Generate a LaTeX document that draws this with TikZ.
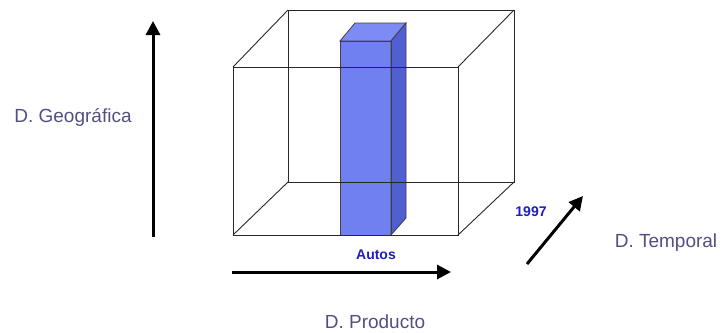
\documentclass[tikz,border=0pt]{standalone}
\usepackage{fontspec}
\setmainfont{Liberation Sans}
\usetikzlibrary{arrows.meta}
\definecolor{labelc}{RGB}{80,80,130}
\definecolor{valc}{RGB}{30,30,190}
\definecolor{barfront}{RGB}{112,128,240}
\definecolor{barside}{RGB}{80,96,210}
\definecolor{bartop}{RGB}{125,140,245}
\definecolor{edgec}{RGB}{40,40,40}
\tikzset{
  axis/.style={line width=3pt,-{Triangle[length=14pt,width=14pt]}},
  edge/.style={draw=edgec,line width=0.9pt},
  barline/.style={draw=black!75,line width=0.8pt},
  dimlabel/.style={text=labelc,font=\fontsize{19}{21}\selectfont,inner sep=0pt},
  vallabel/.style={text=valc,font=\bfseries\fontsize{14}{16}\selectfont,inner sep=0pt}
}
\begin{document}
\begin{tikzpicture}[x=1pt,y=-1pt]
\useasboundingbox (0,0) rectangle (725,332);
% bar
\fill[barfront,barline] (340,41) rectangle (391,235);
\filldraw[bartop,barline] (340,41) -- (355,23) -- (406,23) -- (391,41) -- cycle;
\filldraw[barside,barline] (391,41) -- (406,23) -- (406,218) -- (391,235) -- cycle;
\draw[barline] (340,41) rectangle (391,235);
% cube
\coordinate (f1) at (233,67);
\coordinate (f2) at (458,67);
\coordinate (f3) at (458,235);
\coordinate (f4) at (233,235);
\coordinate (b1) at (288,10);
\coordinate (b2) at (514,10);
\coordinate (b3) at (514,182);
\coordinate (b4) at (288,182);
\draw[edge] (f1) -- (f2) -- (f3) -- (f4) -- cycle;
\draw[edge] (b1) -- (b2) -- (b3) -- (b4) -- cycle;
\draw[edge] (f1) -- (b1);
\draw[edge] (f2) -- (b2);
\draw[edge] (f3) -- (b3);
\draw[edge] (f4) -- (b4);
% axes
\coordinate (v0) at (153,237);
\coordinate (v1) at (153,21);
\coordinate (h0) at (232,272);
\coordinate (h1) at (451,272);
\coordinate (d0) at (527,264);
\coordinate (d1) at (583,196);
\draw[axis] (v0) -- (v1);
\draw[axis] (h0) -- (h1);
\draw[axis] (d0) -- (d1);
% labels
\node[dimlabel] (geo) at (73,117) {D. Geográfica};
\node[dimlabel] (tem) at (666,243) {D. Temporal};
\node[dimlabel] (pro) at (375,322) {D. Producto};
\node[vallabel] (aut) at (376,255) {Autos};
\node[vallabel] (yr) at (531,212) {1997};
\end{tikzpicture}
\end{document}
